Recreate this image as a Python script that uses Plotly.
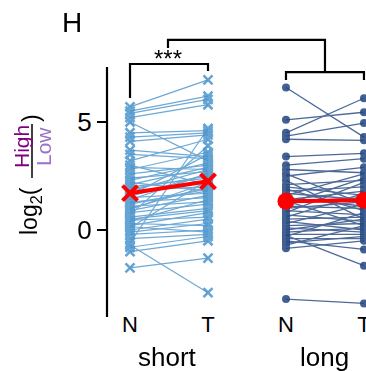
import plotly.graph_objects as go
from statistics import mean

# ---- data ----
groups = ["short", "long"]
tick_text = ["N", "T", "N", "T"]
y_tickvals = [0, 5]

short_N = [5.7, 5.5, 5.4, 5.2, 5.0, 4.5, 4.3, 4.1, 3.7, 3.5, 3.2, 3.0, 2.8, 2.6, 2.4,
           2.2, 2.1, 2.0, 1.9, 1.8, 1.7, 1.6, 1.5, 1.4, 1.3, 1.2, 1.1, 1.0, 0.9, 0.8,
           0.7, 0.6, 0.5, 0.4, 0.3, 0.2, 0.1, 0.0, -0.1, -0.2, -0.4, -0.6, -0.8, -1.0,
           -1.75, -0.7, 1.85, 1.25, 0.45, 0.95, 2.3, 1.55, 0.15, 2.9]
short_T = [6.95, 6.2, 6.05, 5.8, 3.2, 4.6, 4.5, 4.4, 3.4, 3.3, 4.2, 2.1, 3.6, 3.0, 2.7,
           1.8, 2.9, 2.4, 2.5, 2.8, 2.2, 3.5, 1.7, 2.6, 1.5, 1.9, 1.3, 2.0, 1.6, 1.2,
           3.9, 1.0, 0.9, 1.4, 0.2, 0.8, 2.3, 0.5, 0.3, 0.0, -0.2, 4.7, -0.3, -0.5,
           -1.3, -2.9, 2.0, 1.8, 0.6, 2.2, 3.1, 2.6, -0.1, 2.8]

long_N = [6.6, 5.1, 4.5, 4.35, 4.2, 3.4, 3.0, 2.8, 2.6, 2.5, 2.3, 2.1, 2.0, 1.9, 1.8,
          1.7, 1.6, 1.5, 1.4, 1.35, 1.3, 1.2, 1.1, 1.0, 0.9, 0.8, 0.7, 0.6, 0.5, 0.4,
          0.3, 0.2, 0.1, 0.0, -0.1, -0.2, -0.3, -0.4, -0.5, -0.85, -3.2, -0.25, -0.6, -0.7]
long_T = [4.3, 5.45, 6.1, 4.95, 4.15, 3.55, 3.3, 2.65, 1.2, 2.9, 0.5, 2.3, 1.6, 0.9, 2.0,
          1.4, 2.6, 1.1, 1.8, 0.2, 1.5, 2.4, 1.0, 1.3, 0.7, 2.2, 0.4, 1.7, 0.6, 0.0,
          1.2, 0.3, -0.1, 0.5, 0.1, -0.2, 0.8, -0.4, -0.9, -0.5, -3.4, -1.65, -0.3, 0.2]

# ---- style ----
W, H = 366, 371
L, R, T, B = 107, 0, 30, 54
FONT = "Liberation Sans, Arial, sans-serif"
c_short = "#4A94CB"
c_long = "#21457F"
YR = [-4.028, 9.259]


def px_x(p):
    return (p - L) / (W - L - R)


def px_y(p):
    return (H - B - p) / (H - T - B)


def pair_lines(x0, x1, a, b):
    xs, ys = [], []
    for u, v in zip(a, b):
        xs += [x0, x1, None]
        ys += [u, v, None]
    return xs, ys


fig = go.Figure()

xs, ys = pair_lines(0, 1, short_N, short_T)
fig.add_trace(go.Scatter(x=xs, y=ys, mode="lines", line=dict(color=c_short, width=1.2),
                         opacity=0.8, hoverinfo="skip"))
fig.add_trace(go.Scatter(x=[0] * len(short_N) + [1] * len(short_T), y=short_N + short_T,
                         mode="markers", opacity=0.85,
                         marker=dict(symbol="x-thin", size=9, color=c_short,
                                     line=dict(color=c_short, width=2.6))))

xs, ys = pair_lines(2, 3, long_N, long_T)
fig.add_trace(go.Scatter(x=xs, y=ys, mode="lines", line=dict(color=c_long, width=1.3),
                         opacity=0.8, hoverinfo="skip"))
fig.add_trace(go.Scatter(x=[2] * len(long_N) + [3] * len(long_T), y=long_N + long_T,
                         mode="markers", opacity=0.85,
                         marker=dict(symbol="circle", size=8, color=c_long)))

# means
fig.add_trace(go.Scatter(x=[0, 1], y=[mean(short_N), mean(short_T)], mode="lines+markers",
                         line=dict(color="#FF0000", width=4),
                         marker=dict(symbol="x-thin", size=15, color="#FF0000",
                                     line=dict(color="#FF0000", width=4))))
fig.add_trace(go.Scatter(x=[2, 3], y=[mean(long_N), mean(long_T)], mode="lines+markers",
                         line=dict(color="#FF0000", width=4),
                         marker=dict(symbol="circle", size=17, color="#FF0000")))

shapes = [
    # y axis line
    dict(type="line", xref="paper", yref="paper", x0=0, x1=0, y0=0, y1=px_y(67),
         line=dict(color="black", width=2.2)),
    # brackets
    dict(type="path", xref="x", yref="y", path="M 0,6.11 L 0,7.685 L 1,7.685 L 1,7.36",
         line=dict(color="black", width=2.2)),
    dict(type="path", xref="x", yref="y", path="M 2,6.94 L 2,7.31 L 3,7.31 L 3,6.94",
         line=dict(color="black", width=2.2)),
    dict(type="path", xref="x", yref="y", path="M 0.487,8.43 L 0.487,8.80 L 2.5,8.80 L 2.5,7.31",
         line=dict(color="black", width=2.2)),
    # fraction bar of the y title
    dict(type="line", xref="paper", yref="paper", x0=px_x(32), x1=px_x(32),
         y0=px_y(124), y1=px_y(178), line=dict(color="black", width=1.5)),
]

annotations = [
    dict(text="H", xref="paper", yref="paper", x=px_x(72), y=px_y(23), showarrow=False,
         font=dict(size=28, color="black", family=FONT), xanchor="center", yanchor="middle"),
    dict(text="***", xref="x", yref="y", x=0.487, y=7.95, showarrow=False,
         font=dict(size=24, color="black", family=FONT), xanchor="center", yanchor="middle"),
    dict(text=groups[0], xref="x", yref="paper", x=0.487, y=px_y(357), showarrow=False,
         font=dict(size=26, color="black", family=FONT), xanchor="center", yanchor="middle"),
    dict(text=groups[1], xref="x", yref="paper", x=2.5, y=px_y(357), showarrow=False,
         font=dict(size=26, color="black", family=FONT), xanchor="center", yanchor="middle"),
    # y title pieces
    dict(text="log<sub>2</sub>(", xref="paper", yref="paper", x=px_x(31), y=px_y(211),
         showarrow=False, textangle=-90, font=dict(size=23, color="black", family=FONT),
         xanchor="center", yanchor="middle"),
    dict(text="High", xref="paper", yref="paper", x=px_x(21), y=px_y(147),
         showarrow=False, textangle=-90, font=dict(size=21, color="#800080", family=FONT),
         xanchor="center", yanchor="middle"),
    dict(text="Low", xref="paper", yref="paper", x=px_x(43), y=px_y(147),
         showarrow=False, textangle=-90, font=dict(size=21, color="#9A72C8", family=FONT),
         xanchor="center", yanchor="middle"),
    dict(text=")", xref="paper", yref="paper", x=px_x(31), y=px_y(118),
         showarrow=False, textangle=-90, font=dict(size=23, color="black", family=FONT),
         xanchor="center", yanchor="middle"),
]

fig.update_layout(
    width=W, height=H, margin=dict(l=L, r=R, t=T, b=B, autoexpand=False),
    paper_bgcolor="white", plot_bgcolor="white", showlegend=False,
    font=dict(family=FONT, color="black"),
    shapes=shapes, annotations=annotations,
    xaxis=dict(range=[-0.295, 3.026], tickmode="array", tickvals=[0, 1, 2, 3],
               ticktext=tick_text, showgrid=False, zeroline=False, showline=False,
               ticks="", tickfont=dict(size=22, color="black"), ticklabelstandoff=-8,
               ticklabeloverflow="allow", automargin=False),
    yaxis=dict(range=YR, tickmode="array", tickvals=y_tickvals, showgrid=False,
               zeroline=False, showline=False, ticks="outside", ticklen=9, tickwidth=2,
               tickcolor="black", tickfont=dict(size=26, color="black"), automargin=False),
)

fig.write_html("out.html")
